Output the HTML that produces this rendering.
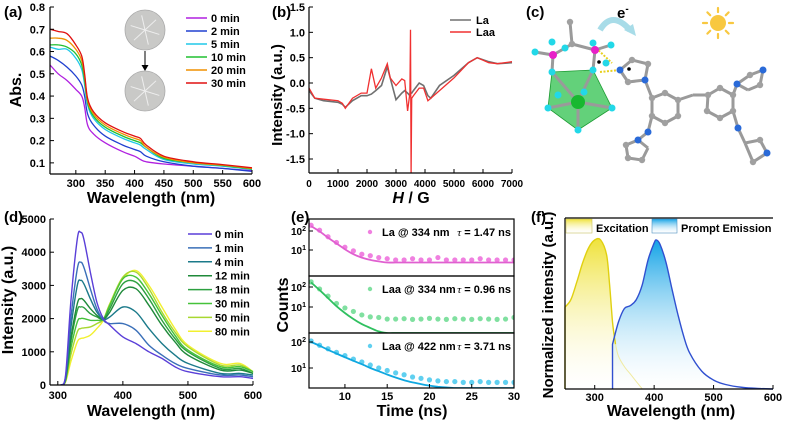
<!DOCTYPE html>
<html><head><meta charset="utf-8"><style>
html,body{margin:0;padding:0;background:#fff;}
svg{display:block;font-family:"Liberation Sans",Arial,sans-serif;font-weight:bold;}
</style></head><body>
<svg id="fig" width="785" height="421" viewBox="0 0 785 421">
<defs>
<linearGradient id="gy" x1="0" y1="0" x2="0" y2="1"><stop offset="0" stop-color="#efe23a"/><stop offset="1" stop-color="#ffffff" stop-opacity="0.2"/></linearGradient>
<linearGradient id="gb" x1="0" y1="0" x2="0" y2="1"><stop offset="0" stop-color="#12a2e6"/><stop offset="1" stop-color="#ffffff" stop-opacity="0.2"/></linearGradient>
<clipPath id="cpb"><rect x="309" y="0" width="205" height="173"/></clipPath>
<clipPath id="cpd"><rect x="50" y="210" width="205" height="175"/></clipPath>
<clipPath id="ce1"><rect x="309" y="219" width="205" height="57"/></clipPath>
<clipPath id="ce2"><rect x="309" y="276" width="205" height="57"/></clipPath>
<clipPath id="ce3"><rect x="309" y="333" width="205" height="55"/></clipPath>
</defs>
</svg>
<script>
// ---------- data (a) ----------
const aWl=[256,270,285,300,310,315,320,330,350,380,400,410,420,450,500,550,600];
const aLabels=['0 min','2 min','5 min','10 min','20 min','30 min'];
const a0=[0.54,0.50,0.47,0.43,0.40,0.35,0.27,0.23,0.19,0.15,0.13,0.115,0.105,0.095,0.085,0.075,0.065];
const a2=[0.58,0.56,0.53,0.49,0.45,0.40,0.32,0.27,0.22,0.18,0.16,0.15,0.13,0.105,0.085,0.075,0.062];
const a5=[0.62,0.61,0.61,0.57,0.52,0.45,0.36,0.30,0.25,0.21,0.19,0.18,0.16,0.115,0.095,0.085,0.07];
const a10=[0.63,0.63,0.62,0.59,0.54,0.47,0.37,0.31,0.26,0.22,0.20,0.19,0.17,0.12,0.10,0.088,0.072];
const a20=[0.66,0.66,0.65,0.61,0.56,0.49,0.38,0.32,0.27,0.23,0.21,0.20,0.17,0.125,0.10,0.09,0.075];
const a30=[0.70,0.69,0.68,0.63,0.58,0.50,0.39,0.33,0.28,0.24,0.22,0.21,0.18,0.13,0.105,0.092,0.078];
const aYTicks=[0.1,0.2,0.3,0.4,0.5,0.6,0.7,0.8];
const aXTicks=[300,350,400,450,500,550,600];
// ---------- data (b) ----------
const bH=[0,200,500,1000,1150,1250,1500,1800,2000,2150,2300,2500,2700,2800,3000,3200,3300,3400,3480,3500,3520,3540,3600,3800,3950,4100,4200,4500,5000,5500,5800,6200,6500,7000];
const bLa=[-0.15,-0.3,-0.35,-0.38,-0.42,-0.48,-0.35,-0.25,-0.25,-0.22,-0.15,-0.05,0.32,0.1,-0.33,-0.2,-0.15,-0.2,-0.25,-0.2,-0.2,-0.2,-0.15,0.0,-0.05,-0.25,-0.3,-0.05,0.15,0.4,0.5,0.42,0.38,0.4];
const bLaa=[-0.1,-0.3,-0.32,-0.35,-0.4,-0.5,-0.3,-0.2,-0.2,0.28,-0.1,0.1,0.38,0.1,-0.05,0.08,0.05,-0.55,-0.2,1.05,-1.8,-0.3,-0.25,-0.1,-0.1,-0.35,-0.3,-0.15,0.1,0.4,0.5,0.4,0.38,0.42];
const bYTicks=[1.5,1.0,0.5,0.0,-0.5,-1.0,-1.5];
const bXTicks=[0,1000,2000,3000,4000,5000,6000,7000];
// ---------- data (d) ----------
const dWl=[305,312,320,330,335,340,350,360,370,380,400,420,440,460,480,500,550,580,600];
const dLabels=['0 min','1 min','4 min','12 min','18 min','30 min','50 min','80 min'];
const d0=[0,300,2500,4400,4600,4400,3400,2500,2000,1800,1450,1250,1000,800,550,400,250,250,200];
const d1=[0,250,2000,3500,3700,3550,2900,2300,1950,1850,1850,1650,1200,900,650,500,300,300,250];
const d4=[0,200,1700,3000,3150,3050,2600,2200,1980,2050,2350,2200,1700,1250,900,650,350,350,300];
const d12=[0,180,1400,2450,2600,2550,2300,2100,1980,2200,2850,2900,2400,1800,1300,900,450,450,350];
const d18=[0,160,1300,2250,2350,2330,2150,2050,1980,2300,3050,3100,2600,1950,1400,1000,500,500,350];
const d30=[0,140,1100,1900,2000,2000,1950,1950,1980,2400,3200,3250,2750,2100,1500,1050,550,550,400];
const d50=[0,110,900,1600,1700,1720,1750,1850,1980,2450,3250,3400,2900,2200,1600,1150,600,600,400];
const d80=[0,90,700,1300,1400,1420,1500,1700,1950,2450,3200,3450,3000,2350,1700,1200,650,650,400];
const dYTicks=[0,1000,2000,3000,4000,5000];
const dXTicks=[300,400,500,600];
// ---------- data (e) ----------
const eT=[6,7,8,9,10,11,12,13,14,15,16,17,18,19,20,21,22,23,24,25,26,27,28,29,30];
const eLa334=[200,110,50,25,14,9,6,5,4,3.5,3,3,3.5,3,3,4,3,3,3,3,3.5,3,3,3,3];
const eLa334fit=[180,95,45,22,11,6,4,3,2.5,2.2,2.2,2.2,2.2,2.2,2.2,2.2,2.2,2.2,2.2,2.2,2.2,2.2,2.2,2.2,2.2];
const eLaa334=[180,80,35,15,9,6,4,3.2,3,2.5,2.5,2.6,2.4,2.5,2.7,2.5,2.4,2.6,2.5,2.4,2.6,2.5,2.4,2.5,3];
const eLaa334fit=[170,70,28,11,5,2.5,1.4,0.9,0.6,0.5,0.5,0.5,0.5,0.5,0.5,0.5,0.5,0.5,0.5,0.5,0.5,0.5,0.5,0.5,0.5];
const eLaa422=[110,75,55,40,30,22,17,13,10,8,6.5,5.5,4.5,4,3.5,3.2,3,3,2.8,2.8,3,2.8,2.8,2.8,2.8];
const eLaa422fit=[100,72,50,36,26,19,14,10,7.5,5.6,4.3,3.4,2.8,2.4,2.1,1.9,1.8,1.7,1.7,1.7,1.7,1.7,1.7,1.7,1.7];
const eXTicks=[10,15,20,25,30];
// ---------- data (f) ----------
const fExX=[250,260,270,280,290,300,310,320,325,330,335];
const fExY=[0.55,0.6,0.72,0.85,0.95,1.0,1.0,0.9,0.7,0.45,0.3];
const fExTailX=[335,340,350,360,370,380];
const fExTailY=[0.3,0.22,0.15,0.1,0.05,0.0];
const fEmX=[330,340,350,360,370,380,390,400,404,410,420,430,440,450,460,480,500,520,550,580,600];
const fEmY=[0.3,0.45,0.54,0.56,0.6,0.7,0.87,0.98,1.0,0.97,0.85,0.67,0.5,0.35,0.24,0.12,0.06,0.03,0.01,0.003,0];
const fXTicks=[300,400,500,600];

const NS='http://www.w3.org/2000/svg';
const svg=document.getElementById('fig');
function mk(tag,attrs,parent){const e=document.createElementNS(NS,tag);for(const k in attrs)e.setAttribute(k,attrs[k]);(parent||svg).appendChild(e);return e;}
function lin(d0,d1,r0,r1){return v=>r0+(v-d0)/(d1-d0)*(r1-r0);}
function smooth(pts){let d='M'+pts[0][0].toFixed(1)+','+pts[0][1].toFixed(1);
 for(let i=0;i<pts.length-1;i++){const p0=pts[Math.max(0,i-1)],p1=pts[i],p2=pts[i+1],p3=pts[Math.min(pts.length-1,i+2)];
 const c1=[p1[0]+(p2[0]-p0[0])/6,p1[1]+(p2[1]-p0[1])/6],c2=[p2[0]-(p3[0]-p1[0])/6,p2[1]-(p3[1]-p1[1])/6];
 d+='C'+c1[0].toFixed(1)+','+c1[1].toFixed(1)+' '+c2[0].toFixed(1)+','+c2[1].toFixed(1)+' '+p2[0].toFixed(1)+','+p2[1].toFixed(1);}return d;}
function pts(xs,ys,sx,sy){return xs.map((x,i)=>[sx(x),sy(ys[i])]);}
function poly(xs,ys,sx,sy){return xs.map((x,i)=>(i?'L':'M')+sx(x).toFixed(1)+','+sy(ys[i]).toFixed(1)).join('');}
function txt(x,y,s,size,anchor){const t=mk('text',{x:x,y:y,'font-size':size,'text-anchor':anchor||'start'});t.textContent=s;return t;}
function vtxt(x,y,s,size){const t=mk('text',{x:0,y:0,'font-size':size,'text-anchor':'middle',transform:'translate('+x+','+y+') rotate(-90)'});t.textContent=s;return t;}
function ln(x1,y1,x2,y2,w){return mk('line',{x1:x1,y1:y1,x2:x2,y2:y2,stroke:'#000','stroke-width':w||1.2});}

// ================= panel (a) =================
{
const sx=lin(256,600,50,252), sy=lin(0.05,0.8,174,7);
let t=txt(4,17,'(a)',15);

const cols=['#b020e0','#2040d0','#20c8e8','#20c030','#f09000','#e01010'];
const ser=[a0,a2,a5,a10,a20,a30];
ser.forEach((s,i)=>{const p=mk('path',{d:smooth(pts(aWl,s,sx,sy)),fill:'none',stroke:cols[i],'stroke-width':1.3});

const l=ln(186,18+i*13,207,18+i*13,1.5);l.setAttribute('stroke',cols[i]);

const lt=txt(211,22+i*13,aLabels[i],11);
});
const ax=ln(50,174,252,174);
const ay=ln(50,174,50,7);
aYTicks.forEach(v=>{ln(50,sy(v),54,sy(v),1);const tl=txt(45,sy(v)+4,v.toFixed(1),11,'end');
});
aXTicks.forEach(v=>{ln(sx(v),174,sx(v),170,1);const tl=txt(sx(v),187,String(v),11,'middle');
});
t=txt(151,203,'Wavelength (nm)',16,'middle');
t=vtxt(21,90,'Abs.',16);
[[145,30],[145,91]].forEach((c,i)=>{const ci=mk('circle',{cx:c[0],cy:c[1],r:20,fill:'#c9c9c7',stroke:'#aaa','stroke-width':0.8});

for(let k=0;k<6;k++){const a=k*Math.PI/3+0.3;mk('line',{x1:c[0],y1:c[1],x2:c[0]+15*Math.cos(a),y2:c[1]+15*Math.sin(a),stroke:'#eee','stroke-width':1});}});
const ar=ln(145,51,145,67,1);
mk('path',{d:'M141.5,65 L145,71 L148.5,65Z',fill:'#000'});
}

// ================= panel (b) =================
{
const sx=lin(0,7000,309,512), sy=lin(-1.5,1.5,159,7);
let t=txt(272,17,'(b)',15);
const g=mk('g',{'clip-path':'url(#cpb)'});
let p=mk('path',{d:poly(bH,bLa,sx,sy),fill:'none',stroke:'#707070','stroke-width':1.6},g);

p=mk('path',{d:poly(bH,bLaa,sx,sy),fill:'none',stroke:'#f03030','stroke-width':1.3},g);

const ax=ln(309,173,512,173);
const ay=ln(309,173,309,7);
bYTicks.forEach(v=>{ln(309,sy(v),313,sy(v),1);const tl=txt(305,sy(v)+4,v.toFixed(1),11,'end');
});
bXTicks.forEach(v=>{ln(sx(v),173,sx(v),169,1);const tl=txt(sx(v),187,String(v),10,'middle');
});
t=mk('text',{x:411,y:203,'font-size':16,'text-anchor':'middle'});t.innerHTML='<tspan font-style="italic">H</tspan> / G';

t=vtxt(282,95,'Intensity (a.u.)',15);
let l=ln(450,20,471,20,1.6);l.setAttribute('stroke','#707070');
t=txt(476,24,'La',11);
l=ln(450,32,471,32,1.6);l.setAttribute('stroke','#f03030');
t=txt(476,36,'Laa',11);
}

// ================= panel (c) =================
{
let t=txt(526,17,'(c)',15);
const g=mk('g',{});
const poly1=mk('polygon',{points:'552,72 593,70 612,108 578,130 548,108',fill:'#2fc24e','fill-opacity':0.75,stroke:'#1a9a30','stroke-width':0.8},g);

const bonds=[[553,55,572,44],[595,50,572,44],[553,55,552,72],[595,50,593,70],[572,44,570,22],[553,55,535,52],[595,50,611,45],[578,102,552,72],[578,102,593,70],[578,102,612,108],[578,102,578,130],[578,102,548,108],
[620,70,632,60],[632,60,648,64],[648,64,645,80],[645,80,628,82],[628,82,620,70],[645,80,652,98],
[652,98,665,93],[665,93,678,100],[678,100,678,116],[678,100,693,95],[678,116,665,123],[665,123,652,116],[652,116,652,98],[652,116,648,132],
[693,95,708,95],[708,95,720,88],[720,88,733,95],[733,95,733,111],[733,111,720,118],[720,118,707,111],[707,111,708,95],[733,95,737,84],[733,111,738,128],
[648,132,638,140],[638,140,626,145],[626,145,628,158],[628,158,642,160],[642,160,648,148],[648,148,638,140],
[737,84,750,75],[750,75,763,70],[763,70,760,85],[760,85,748,90],[748,90,737,84],
[738,128,745,143],[745,143,760,140],[760,140,767,153],[767,153,753,162],[753,162,745,143]];
bonds.forEach(b=>mk('line',{x1:b[0],y1:b[1],x2:b[2],y2:b[3],stroke:'#9a9a9a','stroke-width':3},g));
mk('line',{x1:600,y1:72,x2:620,y2:70,stroke:'#e8d020','stroke-width':2,'stroke-dasharray':'2,1.5'},g);
mk('line',{x1:596,y1:48,x2:612,y2:63,stroke:'#e8d020','stroke-width':2,'stroke-dasharray':'2,1.5'},g);
const grey=[[572,44],[570,22],[665,93],[678,100],[678,116],[665,123],[652,116],[652,98],[708,95],[720,88],[733,95],[733,111],[720,118],[707,111],[632,60],[648,64],[628,82],[626,145],[628,158],[642,160],[750,75],[760,85],[760,140],[753,162],[767,153]];
grey.forEach(a=>mk('circle',{cx:a[0],cy:a[1],r:3.2,fill:'#a0a0a0'},g));
const blue=[[620,70],[645,80],[648,132],[638,140],[737,84],[763,70],[738,128],[767,153]];
blue.forEach(a=>mk('circle',{cx:a[0],cy:a[1],r:3.5,fill:'#2a6ad8'},g));
const cyan=[[535,52],[552,42],[565,48],[593,43],[611,45],[552,72],[593,70],[584,92],[612,108],[548,108],[578,130],[558,95],[606,63]];
cyan.forEach(a=>mk('circle',{cx:a[0],cy:a[1],r:3.5,fill:'#22d8e8'},g));
[[553,55],[595,50]].forEach(a=>mk('circle',{cx:a[0],cy:a[1],r:4,fill:'#e820c8'},g));
mk('circle',{cx:578,cy:102,r:7,fill:'#18b830'},g);
mk('circle',{cx:599,cy:62,r:1.8,fill:'#000'},g);mk('circle',{cx:629,cy:69,r:1.8,fill:'#000'},g);
const arw=mk('path',{d:'M600,30 Q612,10 630,30',fill:'none',stroke:'#a8dce8','stroke-width':6});

mk('path',{d:'M624,30 L636,36 L633,24Z',fill:'#a8dce8'});
t=mk('text',{x:617,y:18,'font-size':15});t.innerHTML='e<tspan font-size="10" dy="-6">-</tspan>';

const sun=mk('circle',{cx:718,cy:23,r:8,fill:'#f8c840'});
for(let k=0;k<8;k++){const a=k*Math.PI/4;mk('line',{x1:718+11*Math.cos(a),y1:23+11*Math.sin(a),x2:718+15*Math.cos(a),y2:23+15*Math.sin(a),stroke:'#f8c840','stroke-width':2.2,'stroke-linecap':'round'});}
}

// ================= panel (d) =================
{
const sx=lin(288,600,50,253), sy=lin(0,5000,385,219);
let t=txt(4,222,'(d)',15);
const cols=['#5a3fd8','#3a6fb8','#1b7a8a','#1f8a3a','#2da040','#45c23a','#a8d830','#f2f030'];
const ser=[d0,d1,d4,d12,d18,d30,d50,d80];
const g=mk('g',{'clip-path':'url(#cpd)'});
for(let i=ser.length-1;i>=0;i--){const p=mk('path',{d:smooth(pts(dWl,ser[i],sx,sy)),fill:'none',stroke:cols[i],'stroke-width':1.4},g);
}
dLabels.forEach((lab,i)=>{const y=234+i*13.9;const l=ln(188,y,212,y,1.5);l.setAttribute('stroke',cols[i]);

const lt=txt(215,y+4,lab,11);});
const ax=ln(50,385,253,385);
const ay=ln(50,385,50,219);
dYTicks.forEach(v=>{ln(50,sy(v),54,sy(v),1);const tl=txt(46,sy(v)+4,String(v),11,'end');
});
dXTicks.forEach(v=>{ln(sx(v),385,sx(v),381,1);const tl=txt(sx(v),399,String(v),11,'middle');
});
t=txt(151,416,'Wavelength (nm)',16,'middle');
t=vtxt(13,300,'Intensity (a.u.)',16);
}

// ================= panel (e) =================
{
const sx=lin(5.75,30,309,514);
let t=txt(291,222,'(e)',15);
const panels=[
 {top:219,bot:276,y2:231,dec:19,data:eLa334,fit:eLa334fit,col:'#f080e0',fc:'#e060d0',lab:'La @ 334 nm',tau:'1.47',clip:'ce1'},
 {top:276,bot:333,y2:287,dec:20,data:eLaa334,fit:eLaa334fit,col:'#80e0a0',fc:'#30c060',lab:'Laa @ 334 nm',tau:'0.96',clip:'ce2'},
 {top:333,bot:388,y2:342,dec:26,data:eLaa422,fit:eLaa422fit,col:'#60d0f0',fc:'#10a8e0',lab:'Laa @ 422 nm',tau:'3.71',clip:'ce3'}];
panels.forEach((P,k)=>{const sy=v=>P.y2-(Math.log10(v)-2)*P.dec;
 const g=mk('g',{'clip-path':'url(#'+P.clip+')'});
 eT.forEach((x,i)=>{const c=mk('circle',{cx:sx(x),cy:sy(P.data[i]),r:2.6,fill:P.col},g);
 });
 const f=mk('path',{d:smooth(pts(eT,P.fit,sx,sy)),fill:'none',stroke:P.fc,'stroke-width':1.8},g);
 
 const r=mk('rect',{x:309,y:P.top,width:205,height:P.bot-P.top,fill:'none',stroke:'#000','stroke-width':1.2});
 
 [2,1].forEach(e=>{ln(309,sy(Math.pow(10,e)),313,sy(Math.pow(10,e)),1);
  const tl=mk('text',{x:306,y:sy(Math.pow(10,e))+4,'font-size':10,'text-anchor':'end'});tl.innerHTML='10<tspan font-size="7" dy="-4">'+e+'</tspan>';
  });
 const m=mk('circle',{cx:370,cy:P.top+13,r:2.2,fill:P.col});
 const lt=txt(382,P.top+17,P.lab,11);
 const tt=mk('text',{x:511,y:P.top+17,'font-size':11,'text-anchor':'end'});tt.innerHTML='<tspan font-style="italic" font-family="Liberation Serif" font-weight="normal">τ</tspan> = '+P.tau+' ns';
 
});
eXTicks.forEach(v=>{ln(sx(v),388,sx(v),384,1);const tl=txt(sx(v),400,String(v),11,'middle');
});
t=txt(412,416,'Time (ns)',16,'middle');
t=vtxt(288,305,'Counts',16);
}

// ================= panel (f) =================
{
const sx=lin(250,600,565,773), sy=lin(0,1,389,240);
let t=txt(531,222,'(f)',15);
const exP=pts(fExX,fExY,sx,sy), tailP=pts(fExTailX,fExTailY,sx,sy);
let fa=mk('path',{d:smooth(exP)+smooth(tailP).replace('M','L')+'L'+sx(250)+','+sy(0)+'Z',fill:'url(#gy)'});

const emP=pts(fEmX,fEmY,sx,sy);
fa=mk('path',{d:'M'+sx(330)+','+sy(0)+smooth(emP).replace('M','L')+'Z',fill:'url(#gb)'});

let p=mk('path',{d:'M'+sx(250)+','+sy(0)+smooth(exP).replace('M','L'),fill:'none',stroke:'#e0d010','stroke-width':1.4});

mk('path',{d:smooth(tailP),fill:'none',stroke:'#f0eaa0','stroke-width':1});
p=mk('path',{d:'M'+sx(330)+','+sy(0)+smooth(emP).replace('M','L'),fill:'none',stroke:'#3050d0','stroke-width':1.4});

const ax=ln(565,389,773,389);
const ay=ln(565,389,565,218);
ln(565,218,773,218,1.2);
fXTicks.forEach(v=>{ln(sx(v),389,sx(v),385,1);const tl=txt(sx(v),401,String(v),11,'middle');
});
let b=mk('rect',{x:566,y:219,width:26,height:14,fill:'url(#gy)',stroke:'#c8c060','stroke-width':0.6});

t=txt(596,232,'Excitation',11);
b=mk('rect',{x:652,y:219,width:25,height:14,fill:'url(#gb)',stroke:'#5090c0','stroke-width':0.6});

t=txt(681,232,'Prompt Emission',11);
t=txt(671,416,'Wavelength (nm)',16,'middle');
t=vtxt(553,305,'Normalized intensity (a.u.)',15);
}
</script>
</body></html>
